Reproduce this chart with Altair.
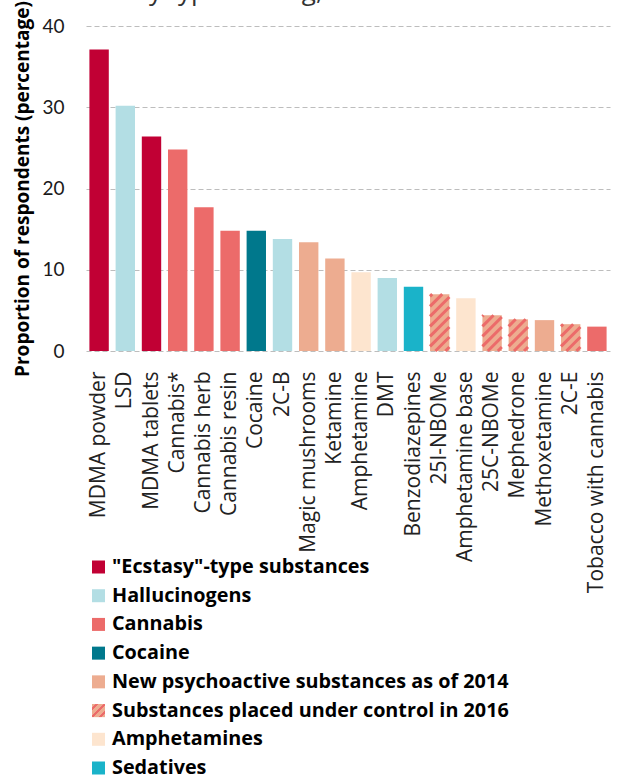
import altair as alt
import pandas as pd

# Last-year use of drugs among respondents, by drug
drugs = ["MDMA powder", "LSD", "MDMA tablets", "Cannabis*", "Cannabis herb", "Cannabis resin",
         "Cocaine", "2C-B", "Magic mushrooms", "Ketamine", "Amphetamine", "DMT",
         "Benzodiazepines", "25I-NBOMe", "Amphetamine base", "25C-NBOMe", "Mephedrone",
         "Methoxetamine", "2C-E", "Tobacco with cannabis"]
shares = [37.1, 30.2, 26.4, 24.8, 17.7, 14.8, 14.8, 13.8, 13.4, 11.4, 9.7, 9.0,
          7.9, 7.0, 6.5, 4.4, 3.9, 3.8, 3.3, 3.0]

group_names = ['"Ecstasy"-type substances', "Hallucinogens", "Cannabis", "Cocaine",
               "New psychoactive substances as of 2014",
               "Substances placed under control in 2016", "Amphetamines", "Sedatives"]
group_colors = ["#C10034", "#B3DEE4", "#EC6B6A", "#00788C", "#EDAC90", "#EDAC90",
                "#FDE5CF", "#1AB3C9"]
# group index for each drug
drug_group = [0, 1, 0, 2, 2, 2, 3, 1, 4, 4, 6, 1, 7, 5, 6, 5, 5, 4, 5, 2]

HATCHED = group_names[5]
HATCH_COLOR = "#EC6B6A"
FONT = "Open Sans"
NUM_FONT = "Lato"
TEXT = "#1a1a1a"

W, H = 524, 325
Y_MAX = 40
n = len(drugs)

bars_df = pd.DataFrame({
    "drug": drugs,
    "share": shares,
    "group": [group_names[g] for g in drug_group],
})

# Diagonal hatching for the 2016-controlled substances, clipped to each bar
px_per_x = W / n
px_per_y = H / Y_MAX
slope = px_per_x / px_per_y          # data-y per data-x for a 45 degree stroke
half = 0.37                          # half bar width in band units
gap = 10 / px_per_y                  # vertical distance between stripes
stripes = []
for i, (drug, v, g) in enumerate(zip(drugs, shares, drug_group)):
    if group_names[g] != HATCHED:
        continue
    xl, xr = i - half, i + half
    c = -slope * (xr - xl) + gap * 0.4
    while c < v:
        xs = max(xl, xl + (0 - c) / slope)
        xe = min(xr, xl + (v - c) / slope)
        if xe > xs:
            stripes.append({"x": xs, "x2": xe,
                            "y": c + slope * (xs - xl), "y2": c + slope * (xe - xl)})
        c += gap
stripes_df = pd.DataFrame(stripes)

legend_df = pd.DataFrame({"row": list(range(len(group_names))), "name": group_names})

color_scale = alt.Scale(domain=group_names, range=group_colors)

bars = alt.Chart(bars_df).mark_bar().encode(
    x=alt.X("drug:N", sort=drugs,
            scale=alt.Scale(paddingInner=0.26, paddingOuter=0.13),
            axis=alt.Axis(title=None, labelAngle=-90, labelFont=FONT, labelFontSize=21,
                          labelColor="#222222", labelPadding=20, labelLimit=400,
                          ticks=False, domain=False)),
    y=alt.Y("share:Q", scale=alt.Scale(domain=[0, Y_MAX], nice=False),
            axis=alt.Axis(title="Proportion of respondents (percentage)",
                          values=[0, 10, 20, 30, 40], grid=True, gridDash=[5, 3],
                          gridColor="#BDBDBD", gridWidth=1, domain=False, ticks=False,
                          labelFont=NUM_FONT, labelFontSize=19, labelColor=TEXT,
                          labelPadding=22, titleFont=FONT, titleFontSize=19,
                          titleFontWeight="bold", titleColor="#000000", titlePadding=9)),
    color=alt.Color("group:N", scale=color_scale, legend=None),
)

hatch = alt.Chart(stripes_df).mark_rule(color=HATCH_COLOR, strokeWidth=3, strokeCap="butt").encode(
    x=alt.X("x:Q", scale=alt.Scale(domain=[-0.5, n - 0.5], nice=False, zero=False), axis=None),
    x2="x2:Q",
    y=alt.Y("y:Q", scale=alt.Scale(domain=[0, Y_MAX], nice=False), axis=None),
    y2="y2:Q",
)

legend_y = alt.Y("row:Q", scale=alt.Scale(domain=[0, 7], range=[541, 742]), axis=None)

legend_sq = alt.Chart(legend_df).mark_square(size=169, opacity=1).encode(
    x=alt.value(12.5),
    y=legend_y,
    color=alt.Color("name:N", scale=color_scale, legend=None),
)

hatch_fill = {
    "gradient": "linear", "x1": 0, "y1": 0, "x2": 1, "y2": 1,
    "stops": [
        {"offset": 0.0, "color": "#EDAC90"}, {"offset": 0.12, "color": "#EDAC90"},
        {"offset": 0.12, "color": HATCH_COLOR}, {"offset": 0.24, "color": HATCH_COLOR},
        {"offset": 0.24, "color": "#EDAC90"}, {"offset": 0.44, "color": "#EDAC90"},
        {"offset": 0.44, "color": HATCH_COLOR}, {"offset": 0.56, "color": HATCH_COLOR},
        {"offset": 0.56, "color": "#EDAC90"}, {"offset": 0.76, "color": "#EDAC90"},
        {"offset": 0.76, "color": HATCH_COLOR}, {"offset": 0.88, "color": HATCH_COLOR},
        {"offset": 0.88, "color": "#EDAC90"}, {"offset": 1.0, "color": "#EDAC90"},
    ],
}
legend_hatch = alt.Chart(legend_df).transform_filter(
    alt.datum.name == HATCHED
).mark_square(size=169, opacity=1, fill=hatch_fill).encode(
    x=alt.value(12.5),
    y=legend_y,
)

legend_text = alt.Chart(legend_df).mark_text(
    align="left", baseline="middle", font=FONT, fontSize=19.8, fontWeight="bold", color="#000000"
).encode(
    x=alt.value(26),
    y=legend_y,
    text="name:N",
)

heading = alt.Chart(pd.DataFrame({"t": ["by type of drug, %"]})).mark_text(
    align="left", baseline="alphabetic", font=FONT, fontSize=26, color="#333333"
).encode(
    x=alt.value(47),
    y=alt.value(-26.5),
    text="t:N",
)

chart = alt.layer(bars, hatch, legend_sq, legend_hatch, legend_text, heading).resolve_scale(
    x="independent", y="independent"
).properties(
    width=W, height=H,
    padding={"left": 86, "top": 26, "right": 17, "bottom": 425},
    autosize=alt.AutoSizeParams(type="none"),
).configure_view(stroke=None)

chart.save("out.html", embed_options={"renderer": "svg", "actions": False})
